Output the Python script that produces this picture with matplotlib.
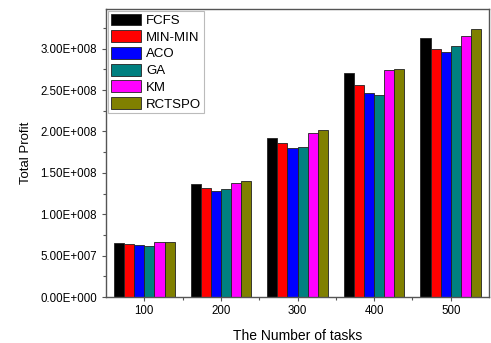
import numpy as np
import matplotlib.pyplot as plt
from matplotlib.ticker import FuncFormatter, MultipleLocator

plt.rcParams['font.family'] = ['Liberation Sans', 'DejaVu Sans']

tasks = ["100", "200", "300", "400", "500"]
algorithms = ["FCFS", "MIN-MIN", "ACO", "GA", "KM", "RCTSPO"]
colors = ["#000000", "#ff0000", "#0000ff", "#008080", "#ff00ff", "#808000"]

fcfs = [6.50e7, 1.364e8, 1.925e8, 2.70e8, 3.124e8]
minmin = [6.42e7, 1.311e8, 1.856e8, 2.558e8, 2.99e8]
aco = [6.30e7, 1.283e8, 1.80e8, 2.47e8, 2.958e8]
ga = [6.14e7, 1.31e8, 1.816e8, 2.446e8, 3.027e8]
km = [6.62e7, 1.372e8, 1.986e8, 2.744e8, 3.148e8]
rctspo = [6.68e7, 1.40e8, 2.013e8, 2.752e8, 3.236e8]

series = [fcfs, minmin, aco, ga, km, rctspo]


def sci_fmt(v, pos):
    if v == 0:
        return "0.00E+000"
    exp = int(np.floor(np.log10(abs(v))))
    return f"{v / 10**exp:.2f}E+{exp:03d}"


fig = plt.figure(figsize=(4.91, 3.43), dpi=100)
ax = fig.add_axes([0.216, 0.134, 0.78, 0.84])

x = np.arange(1, len(tasks) + 1)
w = 0.132
for i, (vals, name, c) in enumerate(zip(series, algorithms, colors)):
    ax.bar(x + (i - 2.5) * w, vals, w, color=c, edgecolor="#222222",
           linewidth=0.6, label=name)

ax.set_xlim(0.5, 5.5)
ax.set_ylim(0, 3.48e8)
ax.set_xticks(x)
ax.set_xticklabels(tasks)
ax.set_xticks(np.arange(1.5, 5.5, 1.0), minor=True)
ax.yaxis.set_major_locator(MultipleLocator(5e7))
ax.yaxis.set_minor_locator(MultipleLocator(2.5e7))
ax.yaxis.set_major_formatter(FuncFormatter(sci_fmt))
ax.tick_params(labelsize=8.3, length=3, width=0.8, color="#555555")
ax.tick_params(axis="x", pad=2.5)
ax.tick_params(which="minor", length=2, width=0.8, color="#555555")
for s in ax.spines.values():
    s.set_color("#555555")
    s.set_linewidth(1.0)

ax.set_xlabel("The Number of tasks", fontsize=10, labelpad=9)
ax.set_ylabel("Total Profit", fontsize=9.5, labelpad=6)

leg = ax.legend(loc="upper left", fontsize=9.5, handlelength=2.3, handleheight=1.0,
                labelspacing=0.25, handletextpad=0.4, borderaxespad=0.15,
                borderpad=0.2, fancybox=False, framealpha=1)
leg.get_frame().set_edgecolor("#bbbbbb")
leg.get_frame().set_linewidth(0.8)

fig.savefig("out.png", dpi=100)
